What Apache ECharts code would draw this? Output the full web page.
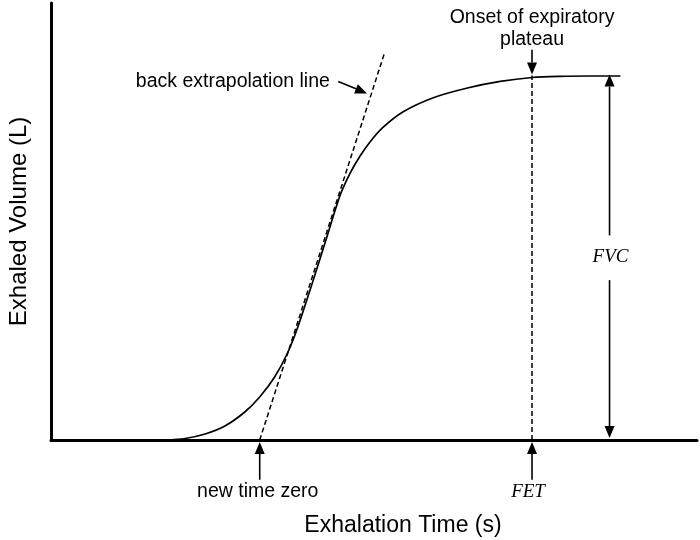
<!DOCTYPE html>
<html>
<head>
<meta charset="utf-8">
<script src="https://cdn.jsdelivr.net/npm/echarts@6/dist/echarts.min.js"></script>
<style>html,body{margin:0;padding:0;background:#fff}#c{width:700px;height:540px}</style>
</head>
<body>
<div id="c"></div>
<script>
// Volume-time curve (time s, volume L)
var curveTime = [1.15,1.35,1.55,1.75,1.95,2.10,2.25,2.38,2.48,2.61,2.76,2.91,3.01,3.11,3.21,3.34,3.54,3.84,4.19,4.52,4.84,5.12,5.42,5.73];
var curveVol  = [0.000,0.015,0.060,0.141,0.282,0.433,0.634,0.876,1.128,1.521,1.994,2.467,2.688,2.860,3.001,3.147,3.303,3.444,3.544,3.610,3.650,3.662,3.665,3.665];
// back extrapolation line endpoints
var extrapTime = [2.10, 3.36];
var extrapVol  = [0.00, 3.91];
var newTimeZero = 2.10;
var fetTime = 4.84;
var plateauVol = 3.67;
var fvcTime = 5.62;
var xMax = 6.5, yMax = 4.4;
// arrows: [x1, y1, x2(tip), y2(tip)]
var arrowsData = [
  [newTimeZero, -0.40, newTimeZero, -0.02],
  [fetTime, -0.40, fetTime, -0.02],
  [fetTime, 3.93, fetTime, plateauVol + 0.01],
  [fvcTime, 2.06, fvcTime, plateauVol + 0.01],
  [fvcTime, 1.61, fvcTime, 0.02],
  [2.89, 3.61, 3.18, 3.49]
];
// labels
var labelX = [1.83, fetTime, 2.08, 4.80, 5.63];
var labelY = [3.61, 4.14, -0.52, -0.52, 1.84];
var labelText = ['back extrapolation line', 'Onset of expiratory\nplateau', 'new time zero', 'FET', 'FVC'];
var labelMath = [0, 0, 0, 1, 1];

var curve = curveTime.map(function(t,i){return [t, curveVol[i]];});
var extrap = extrapTime.map(function(t,i){return [t, extrapVol[i]];});
var labels = labelX.map(function(x,i){return [x, labelY[i], i];});

function renderArrow(params, api){
  var p1 = api.coord([api.value(0), api.value(1)]);
  var p2 = api.coord([api.value(2), api.value(3)]);
  var dx = p2[0]-p1[0], dy = p2[1]-p1[1];
  var len = Math.sqrt(dx*dx+dy*dy); var ux = dx/len, uy = dy/len;
  var hl = 12, hw = 5;
  var bx = p2[0]-ux*hl, by = p2[1]-uy*hl;
  return {type:'group', children:[
    {type:'line', shape:{x1:p1[0], y1:p1[1], x2:bx, y2:by}, style:{stroke:'#000', lineWidth:1.6}},
    {type:'polygon', shape:{points:[[p2[0],p2[1]],[bx-uy*hw, by+ux*hw],[bx+uy*hw, by-ux*hw]]}, style:{fill:'#000'}}
  ]};
}
function renderLabel(params, api){
  var p = api.coord([api.value(0), api.value(1)]);
  var i = api.value(2);
  var font = labelMath[i] ? 'italic 19px "Liberation Serif", "Times New Roman", serif' : '19.5px "Liberation Sans", Arial, sans-serif';
  return {type:'text', style:{text:labelText[i], x:p[0], y:p[1], align:'center', verticalAlign:'middle',
    font:font, fill:'#000', lineHeight:22}};
}

var option = {
  animation:false,
  backgroundColor:'#fff',
  grid:{left:51, right:3, top:3, bottom:100, containLabel:false, outerBoundsMode:'none'},
  xAxis:{type:'value', min:0, max:xMax,
    name:'Exhalation Time (s)', nameLocation:'middle', nameGap:74,
    nameTextStyle:{fontFamily:'Liberation Sans, Arial, sans-serif', fontSize:23, color:'#000', padding:[0,0,0,58]},
    axisLine:{show:true, onZero:false, lineStyle:{color:'#000', width:3}},
    axisTick:{show:false}, axisLabel:{show:false}, splitLine:{show:false}},
  yAxis:{type:'value', min:0, max:yMax,
    name:'Exhaled Volume (L)', nameLocation:'middle', nameGap:20,
    nameTextStyle:{fontFamily:'Liberation Sans, Arial, sans-serif', fontSize:24, color:'#000'},
    axisLine:{show:true, onZero:false, lineStyle:{color:'#000', width:3}},
    axisTick:{show:false}, axisLabel:{show:false}, splitLine:{show:false}},
  series:[
    {type:'line', data:curve, smooth:0.3, symbol:'none', clip:false,
     lineStyle:{color:'#000', width:1.7}, z:3},
    {type:'line', data:extrap, symbol:'none', clip:false,
     lineStyle:{color:'#000', width:1.5, type:[5,3]}, z:2},
    {type:'line', data:[[fetTime,0],[fetTime,plateauVol]], symbol:'none', clip:false,
     lineStyle:{color:'#000', width:1.5, type:[5,3]}, z:2},
    {type:'custom', data:arrowsData, renderItem:renderArrow, clip:false, silent:true, z:4},
    {type:'custom', data:labels, renderItem:renderLabel, clip:false, silent:true, z:5}
  ]
};
var chart = echarts.init(document.getElementById('c'), null, {renderer:'canvas'});
chart.setOption(option);
</script>
</body>
</html>
